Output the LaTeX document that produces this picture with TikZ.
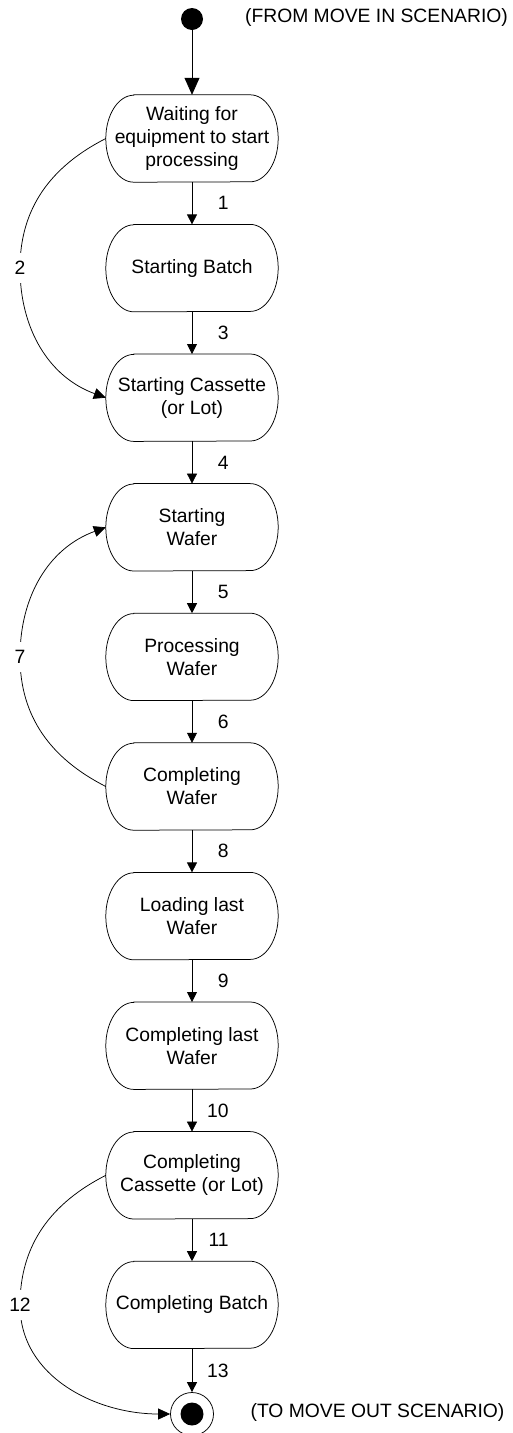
\documentclass[tikz,border=0pt]{standalone}
\usepackage{fontspec}
\setmainfont{Liberation Sans}
\usetikzlibrary{arrows.meta}

\newcommand\diagfont{\fontsize{19.3}{23}\selectfont}

\tikzset{
  x=1pt, y=1pt,
  every node/.style={font=\diagfont},
  state/.style={minimum width=172pt, minimum height=87pt, inner sep=0pt, align=center},
  outline/.style={draw, line width=0.75pt},
  flow/.style={draw, line width=0.75pt, -{Triangle[length=10pt,width=10pt]}},
  entry/.style={draw, line width=0.75pt, -{Triangle[length=17pt,width=15pt]}},
  loopflow/.style={draw, line width=0.75pt, -{Triangle[length=12pt,width=11pt]}},
  num/.style={midway, anchor=east, xshift=37pt, inner sep=0pt},
  lbl/.style={fill=white, inner xsep=2pt, inner ysep=8pt},
}

\begin{document}
\begin{tikzpicture}
  \useasboundingbox (0,0) rectangle (512,-1433);

  % initial pseudo-state
  \node[circle, fill=black, minimum size=22pt, inner sep=0pt] (start) at (192,-19) {};
  \node (fromtxt) at (376.5,-18) {(FROM MOVE IN SCENARIO)};

  % states
  \node[state] (s1)  at (192,-138.5)  {Waiting for\\equipment to start\\processing};
  \node[state] (s2)  at (192,-268.1)  {Starting Batch};
  \node[state] (s3)  at (192,-397.7)  {Starting Cassette\\(or Lot)};
  \node[state] (s4)  at (192,-527.3)  {Starting\\Wafer};
  \node[state] (s5)  at (192,-656.9)  {Processing\\Wafer};
  \node[state] (s6)  at (192,-786.5)  {Completing\\Wafer};
  \node[state] (s7)  at (192,-916.1)  {Loading last\\Wafer};
  \node[state] (s8)  at (192,-1045.7) {Completing last\\Wafer};
  \node[state] (s9)  at (192,-1175.3) {Completing\\Cassette (or Lot)};
  \node[state] (s10) at (192,-1304.9) {Completing Batch};

  % stadium outlines with elliptic ends
  \foreach \n in {s1,s2,s3,s4,s5,s6,s7,s8,s9,s10}
    \draw[outline] ([xshift=28pt]\n.north west) -- ([xshift=-28pt]\n.north east)
      arc[start angle=90, end angle=-90, x radius=28pt, y radius=43.5pt]
      -- ([xshift=28pt]\n.south west)
      arc[start angle=270, end angle=90, x radius=28pt, y radius=43.5pt] -- cycle;

  % final pseudo-state
  \node[circle, draw, line width=0.75pt, minimum size=43pt, inner sep=0pt] (end) at (192,-1414) {};
  \node[circle, fill=black, minimum size=23pt, inner sep=0pt] (enddot) at (end.center) {};
  \node (totxt) at (377.5,-1412) {(TO MOVE OUT SCENARIO)};

  % straight transitions
  \draw[entry] (start) -- (s1);
  \draw[flow] (s1) -- node[num] {1} (s2);
  \draw[flow] (s2) -- node[num] {3} (s3);
  \draw[flow] (s3) -- node[num] {4} (s4);
  \draw[flow] (s4) -- node[num] {5} (s5);
  \draw[flow] (s5) -- node[num] {6} (s6);
  \draw[flow] (s6) -- node[num] {8} (s7);
  \draw[flow] (s7) -- node[num] {9} (s8);
  \draw[flow] (s8) -- node[num] {10} (s9);
  \draw[flow] (s9) -- node[num] {11} (s10);
  \draw[flow] (s10) -- node[num] {13} (end);

  % curved transitions on the left
  \draw[loopflow] (s1.west) to[out=207, in=90] (20,-268) node[lbl] {2}
    to[out=-90, in=160] (s3.west);
  \draw[loopflow] (s6.west) to[out=153, in=-90] (20,-657) node[lbl] {7}
    to[out=90, in=200] (s4.west);
  \draw[loopflow] (s9.west) to[out=207, in=90] (20,-1305) node[lbl] {12}
    to[out=-90, in=180] (end.west);
\end{tikzpicture}
\end{document}
